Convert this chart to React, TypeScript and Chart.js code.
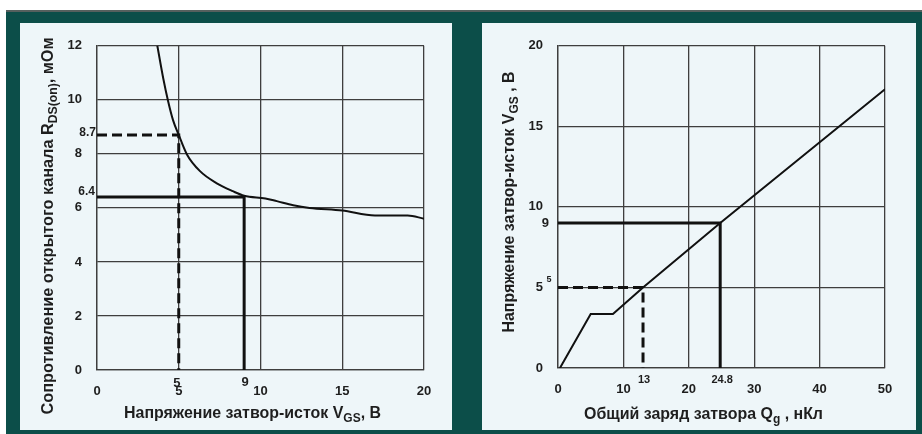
import { useEffect, useRef } from "react";
import { Chart, registerables } from "chart.js";

Chart.register(...registerables);

// ---- Left chart: R_DS(on) vs V_GS ----
const rdsGateVoltage = [3.69, 4.05, 4.35, 4.65, 5, 5.5, 6.3, 7.3, 8.3, 9, 10.3, 11, 12, 13, 15, 17, 19, 20];
const rdsResistance = [12, 10.8, 9.95, 9.25, 8.7, 7.98, 7.36, 6.92, 6.62, 6.45, 6.35, 6.25, 6.1, 6.0, 5.9, 5.72, 5.72, 5.6];
const rdsXTicks = [0, 5, 10, 15, 20];
const rdsYTicks = [0, 2, 4, 6, 8, 10, 12];
const rdsDashedMark = [5, 8.7]; // [V_GS, R]
const rdsSolidMark = [9, 6.4];
const rdsYMarkLabels = ["8.7", "6.4"];
const rdsXMarkLabels = ["5", "9"];

// ---- Right chart: V_GS vs Q_g ----
const qgCharge = [0.3, 5, 8.4, 13, 24.8, 50];
const qgVoltage = [0, 3.35, 3.35, 5, 9, 17.3];
const qgXTicks = [0, 10, 20, 30, 40, 50];
const qgYTicks = [0, 5, 10, 15, 20];
const qgDashedMark = [13, 5]; // [Q_g, V_GS]
const qgSolidMark = [24.8, 9];
const qgYMarkLabels = ["5", "9"];
const qgXMarkLabels = ["13", "24.8"];

const TEAL = "#0c4e49";
const PANEL = "#eef6f9";
const GRID = "#3e3e3e";
const INK = "#111";
const TEXT = "#1e1e1e";
const FONT = '"Liberation Sans", Arial, sans-serif';

type Rich = { text: string; sub?: boolean };

function drawRich(
  ctx: CanvasRenderingContext2D,
  parts: Rich[],
  cx: number,
  cy: number,
  size: number,
  targetW: number,
  rotate: boolean
) {
  const main = `bold ${size}px ${FONT}`;
  const subSize = Math.round(size * 0.72);
  const sub = `bold ${subSize}px ${FONT}`;
  ctx.save();
  let w = 0;
  const widths = parts.map((p) => {
    ctx.font = p.sub ? sub : main;
    const m = ctx.measureText(p.text).width;
    w += m;
    return m;
  });
  ctx.translate(cx, cy);
  if (rotate) ctx.rotate(-Math.PI / 2);
  ctx.scale(targetW / w, 1);
  ctx.fillStyle = TEXT;
  ctx.textBaseline = "alphabetic";
  ctx.textAlign = "left";
  let x = -w / 2;
  parts.forEach((p, i) => {
    ctx.font = p.sub ? sub : main;
    ctx.fillText(p.text, x, p.sub ? size * 0.62 : size * 0.36);
    x += widths[i];
  });
  ctx.restore();
}

function pts(xs: number[], ys: number[]) {
  return xs.map((x, i) => ({ x, y: ys[i] }));
}

function markPath(mark: number[]) {
  return [
    { x: 0, y: mark[1] },
    { x: mark[0], y: mark[1] },
    { x: mark[0], y: 0 },
  ];
}

function baseScale(min: number, max: number, ticks: number[], size: number, isX: boolean) {
  return {
    type: "linear" as const,
    min,
    max,
    afterBuildTicks: (s: any) => {
      s.ticks = ticks.map((v) => ({ value: v }));
    },
    afterFit: (s: any) => {
      if (isX) s.height = size;
      else s.width = size;
    },
    ticks: {
      color: TEXT,
      font: { family: FONT, size: 13, weight: "bold" as const },
      padding: isX ? 14 : 15,
      maxRotation: 0,
      autoSkip: false,
    },
    grid: { color: GRID, lineWidth: 1.3, drawTicks: false },
    border: { color: GRID, width: 1.3 },
  };
}

export default function App() {
  const leftRef = useRef<HTMLCanvasElement | null>(null);
  const rightRef = useRef<HTMLCanvasElement | null>(null);

  useEffect(() => {
    const leftPlugin = {
      id: "leftExtras",
      afterDraw(chart: any) {
        const ctx: CanvasRenderingContext2D = chart.ctx;
        const xs = chart.scales.x;
        const ys = chart.scales.y;
        const area = chart.chartArea;
        ctx.save();
        ctx.fillStyle = TEXT;
        ctx.font = `bold 12px ${FONT}`;
        ctx.textAlign = "right";
        ctx.textBaseline = "middle";
        ctx.fillText(rdsYMarkLabels[0], xs.getPixelForValue(0) - 1, ys.getPixelForValue(rdsDashedMark[1]) - 2);
        ctx.fillText(rdsYMarkLabels[1], xs.getPixelForValue(0) - 2, ys.getPixelForValue(rdsSolidMark[1]) - 5);
        ctx.textAlign = "center";
        ctx.font = `bold 13px ${FONT}`;
        ctx.fillText(rdsXMarkLabels[0], xs.getPixelForValue(rdsDashedMark[0]) - 2, area.bottom + 13);
        ctx.fillText(rdsXMarkLabels[1], xs.getPixelForValue(rdsSolidMark[0]) + 1, area.bottom + 12);
        ctx.restore();
        drawRich(
          ctx,
          [{ text: "Напряжение затвор-исток V" }, { text: "GS", sub: true }, { text: ", В" }],
          (area.left + area.right) / 2 - 8,
          chart.height - 16,
          16,
          257,
          false
        );
        drawRich(
          ctx,
          [{ text: "Сопротивление открытого канала R" }, { text: "DS(on)", sub: true }, { text: ", мОм" }],
          27,
          203,
          16,
          377,
          true
        );
      },
    };

    const rightPlugin = {
      id: "rightExtras",
      afterDraw(chart: any) {
        const ctx: CanvasRenderingContext2D = chart.ctx;
        const xs = chart.scales.x;
        const ys = chart.scales.y;
        const area = chart.chartArea;
        ctx.save();
        ctx.fillStyle = TEXT;
        ctx.textBaseline = "middle";
        ctx.textAlign = "center";
        ctx.font = `bold 9px ${FONT}`;
        ctx.fillText(qgYMarkLabels[0], xs.getPixelForValue(0) - 9, ys.getPixelForValue(qgDashedMark[1]) - 8);
        ctx.font = `bold 13px ${FONT}`;
        ctx.textAlign = "right";
        ctx.fillText(qgYMarkLabels[1], xs.getPixelForValue(0) - 9, ys.getPixelForValue(qgSolidMark[1]));
        ctx.textAlign = "center";
        ctx.font = `bold 11px ${FONT}`;
        ctx.fillText(qgXMarkLabels[0], xs.getPixelForValue(qgDashedMark[0]) + 1, area.bottom + 12);
        ctx.fillText(qgXMarkLabels[1], xs.getPixelForValue(qgSolidMark[0]) + 2, area.bottom + 12);
        ctx.restore();
        drawRich(
          ctx,
          [{ text: "Общий заряд затвора Q" }, { text: "g", sub: true }, { text: " , нКл" }],
          (area.left + area.right) / 2 - 18,
          chart.height - 15,
          16,
          239,
          false
        );
        drawRich(
          ctx,
          [{ text: "Напряжение затвор-исток V" }, { text: "GS", sub: true }, { text: " , В" }],
          26,
          179,
          16,
          261,
          true
        );
      },
    };

    const left = new Chart(leftRef.current as HTMLCanvasElement, {
      type: "line",
      data: {
        datasets: [
          {
            data: pts(rdsGateVoltage, rdsResistance),
            borderColor: INK,
            borderWidth: 2,
            pointRadius: 0,
            cubicInterpolationMode: "monotone",
          },
          {
            data: markPath(rdsDashedMark),
            borderColor: INK,
            borderWidth: 3,
            borderDash: [10, 5],
            pointRadius: 0,
          },
          {
            data: markPath(rdsSolidMark),
            borderColor: INK,
            borderWidth: 3,
            pointRadius: 0,
          },
        ],
      } as any,
      options: {
        animation: false,
        responsive: false,
        events: [],
        layout: { padding: { top: 20, right: 28, left: 0, bottom: 0 } },
        plugins: { legend: { display: false }, tooltip: { enabled: false } },
        scales: {
          x: baseScale(0, 20, rdsXTicks, 58, true),
          y: baseScale(0, 12, rdsYTicks, 77, false),
        },
      } as any,
      plugins: [leftPlugin],
    });

    const right = new Chart(rightRef.current as HTMLCanvasElement, {
      type: "line",
      data: {
        datasets: [
          {
            data: pts(qgCharge, qgVoltage),
            borderColor: INK,
            borderWidth: 2,
            pointRadius: 0,
            tension: 0,
          },
          {
            data: markPath(qgDashedMark),
            borderColor: INK,
            borderWidth: 3,
            borderDash: [10, 5],
            pointRadius: 0,
          },
          {
            data: markPath(qgSolidMark),
            borderColor: INK,
            borderWidth: 3,
            pointRadius: 0,
          },
        ],
      } as any,
      options: {
        animation: false,
        responsive: false,
        events: [],
        layout: { padding: { top: 19, right: 31, left: 0, bottom: 0 } },
        plugins: { legend: { display: false }, tooltip: { enabled: false } },
        scales: {
          x: baseScale(0, 50, qgXTicks, 60, true),
          y: baseScale(0, 20, qgYTicks, 76, false),
        },
      } as any,
      plugins: [rightPlugin],
    });

    return () => {
      left.destroy();
      right.destroy();
    };
  }, []);

  return (
    <div
      style={{
        position: "absolute",
        left: 0,
        top: 0,
        width: 922,
        height: 434,
        background: "#ffffff",
        overflow: "hidden",
      }}
    >
      <div style={{ position: "absolute", left: 6, top: 10, width: 916, height: 2, background: "#56605e" }} />
      <div style={{ position: "absolute", left: 6, top: 12, width: 916, height: 422, background: TEAL }} />
      <div
        style={{
          position: "absolute",
          left: 20,
          top: 23,
          width: 432,
          height: 407,
          background: PANEL,
        }}
      >
        <canvas ref={leftRef} width={432} height={405} style={{ display: "block" }} />
      </div>
      <div
        style={{
          position: "absolute",
          left: 482,
          top: 23,
          width: 434,
          height: 407,
          background: PANEL,
        }}
      >
        <canvas ref={rightRef} width={434} height={405} style={{ display: "block" }} />
      </div>
    </div>
  );
}
